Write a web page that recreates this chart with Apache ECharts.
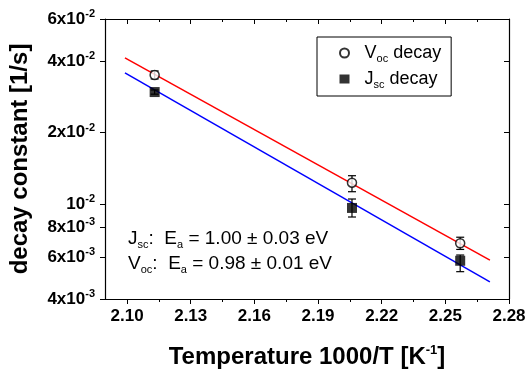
<!DOCTYPE html>
<html>
<head>
<meta charset="utf-8">
<script src="https://cdn.jsdelivr.net/npm/echarts@6/dist/echarts.min.js"></script>
<style>
  html, body { margin: 0; padding: 0; background: #fff; }
  #main { width: 532px; height: 377px; }
</style>
</head>
<body>
<div id="main"></div>
<script>
// 1000/T positions of the three measurements
const xValues = [2.113, 2.206, 2.257];
// Voc decay constants [1/s] with error bar limits
const vocValues = [0.0349, 0.01232, 0.00686];
const vocLow = [0.0336, 0.01129, 0.00646];
const vocHigh = [0.0363, 0.01318, 0.00727];
// Jsc decay constants [1/s] with error bar limits
const jscValues = [0.0296, 0.00965, 0.00579];
const jscLow = [0.0290, 0.00884, 0.00521];
const jscHigh = [0.0302, 0.01052, 0.00612];
// Arrhenius fit lines (end points)
const fitX = [2.099, 2.271];
const vocFit = [0.0412, 0.00583];
const jscFit = [0.0356, 0.00472];
// axis ticks
const xTicks = [2.10, 2.13, 2.16, 2.19, 2.22, 2.25, 2.28];
const xMinorTicks = [2.115, 2.145, 2.175, 2.205, 2.235, 2.265];
const yTicks = [0.004, 0.006, 0.008, 0.01, 0.02, 0.04, 0.06];
const yTickLabels = ['4x10{sup|-3}', '6x10{sup|-3}', '8x10{sup|-3}', '10{sup|-2}', '2x10{sup|-2}', '4x10{sup|-2}', '6x10{sup|-2}'];

const lg = v => Math.log10(v);
const yTickLog = yTicks.map(lg);

function points(vals) {
    return xValues.map((x, i) => [x, lg(vals[i])]);
}
function errData(lo, hi) {
    return xValues.map((x, i) => [x, lg(lo[i]), lg(hi[i])]);
}

function errorBar(params, api) {
    const x = api.value(0);
    const p1 = api.coord([x, api.value(1)]);
    const p2 = api.coord([x, api.value(2)]);
    const w = 4;
    const st = { stroke: '#000', lineWidth: 1.2 };
    return {
        type: 'group',
        children: [
            { type: 'line', shape: { x1: p1[0], y1: p1[1], x2: p2[0], y2: p2[1] }, style: st },
            { type: 'line', shape: { x1: p1[0] - w, y1: p1[1], x2: p1[0] + w, y2: p1[1] }, style: st },
            { type: 'line', shape: { x1: p2[0] - w, y1: p2[1], x2: p2[0] + w, y2: p2[1] }, style: st }
        ]
    };
}

const font = 'Liberation Sans, Arial, sans-serif';
const supRich = {
    sup: { fontSize: 11, fontWeight: 'bold', fontFamily: font, padding: [0, 0, 10, 0] }
};

var chart = echarts.init(document.getElementById('main'));
var frame = { show: true, lineStyle: { color: '#000', width: 1.2 } };
var option = {
    backgroundColor: '#fff',
    animation: false,
    grid: { left: 105, right: 23, top: 19, bottom: 78 },
    xAxis: [{
        type: 'value', min: 2.0896, max: 2.28, position: 'bottom',
        axisLine: frame,
        axisTick: { show: true, inside: false, length: 5, customValues: xTicks, lineStyle: { color: '#000' } },
        axisLabel: {
            customValues: xTicks, margin: 9, color: '#000', fontSize: 17, fontWeight: 'bold', fontFamily: font,
            formatter: v => v.toFixed(2)
        },
        splitLine: { show: false },
        name: 'Temperature 1000/T [K{sup|-1}]',
        nameLocation: 'middle', nameGap: 45,
        nameTextStyle: { color: '#000', fontSize: 24, fontWeight: 'bold', fontFamily: font, rich: { sup: { fontSize: 13, fontWeight: 'bold', fontFamily: font, padding: [0, 0, 13, 0] } } }
    }, {
        type: 'value', min: 2.0896, max: 2.28, position: 'bottom',
        axisLine: { show: false },
        axisTick: { show: true, inside: false, length: 3, customValues: xMinorTicks, lineStyle: { color: '#000' } },
        axisLabel: { show: false },
        splitLine: { show: false }
    }, {
        type: 'value', min: 2.0896, max: 2.28, position: 'top',
        axisLine: frame,
        axisTick: { show: true, inside: true, length: 5, customValues: xTicks, lineStyle: { color: '#000' } },
        axisLabel: { show: false },
        splitLine: { show: false }
    }, {
        type: 'value', min: 2.0896, max: 2.28, position: 'top',
        axisLine: { show: false },
        axisTick: { show: true, inside: true, length: 3, customValues: xMinorTicks, lineStyle: { color: '#000' } },
        axisLabel: { show: false },
        splitLine: { show: false }
    }],
    yAxis: [{
        type: 'value', min: lg(0.004), max: lg(0.06), position: 'left',
        axisLine: frame,
        axisTick: { show: true, inside: false, length: 5, customValues: yTickLog, lineStyle: { color: '#000' } },
        axisLabel: {
            customValues: yTickLog, margin: 10, color: '#000', fontSize: 17, fontWeight: 'bold', fontFamily: font,
            rich: supRich,
            formatter: function (v) {
                let best = 0;
                yTickLog.forEach((t, i) => { if (Math.abs(t - v) < Math.abs(yTickLog[best] - v)) best = i; });
                return yTickLabels[best];
            }
        },
        splitLine: { show: false },
        name: 'decay constant [1/s]',
        nameLocation: 'middle', nameGap: 73,
        nameTextStyle: { color: '#000', fontSize: 24, fontWeight: 'bold', fontFamily: font }
    }, {
        type: 'value', min: lg(0.004), max: lg(0.06), position: 'right',
        axisLine: frame,
        axisTick: { show: true, inside: true, length: 5, customValues: yTickLog, lineStyle: { color: '#000' } },
        axisLabel: { show: false },
        splitLine: { show: false }
    }],
    legend: {
        orient: 'vertical', left: 317, top: 37,
        padding: [7, 10, 6, 22], itemGap: 6,
        itemWidth: 10, itemHeight: 9,
        borderColor: '#000', borderWidth: 1,
        data: ['voc', 'jsc'],
        formatter: name => name === 'voc' ? '  V{sub|oc} decay' : '  J{sub|sc} decay',
        textStyle: {
            color: '#000', fontSize: 18, fontFamily: font,
            rich: { sub: { fontSize: 11, fontFamily: font, padding: [11, 0, 0, 0] } }
        }
    },
    graphic: [{
        type: 'text', left: 128, top: 226,
        style: {
            text: 'J{sub|sc}:  E{sub|a} = 1.00 ± 0.03 eV\nV{sub|oc}:  E{sub|a} = 0.98 ± 0.01 eV',
            fill: '#000', fontSize: 19, fontFamily: font, lineHeight: 25,
            rich: { sub: { fontSize: 11, fontFamily: font, padding: [12, 0, 0, 0] } }
        }
    }],
    series: [{
        name: 'vocfit', type: 'line', data: fitX.map((x, i) => [x, lg(vocFit[i])]),
        showSymbol: false, lineStyle: { color: '#ff0000', width: 1.5 }, z: 2
    }, {
        name: 'jscfit', type: 'line', data: fitX.map((x, i) => [x, lg(jscFit[i])]),
        showSymbol: false, lineStyle: { color: '#0000ff', width: 1.5 }, z: 2
    }, {
        name: 'vocerr', type: 'custom', renderItem: errorBar, data: errData(vocLow, vocHigh), z: 3
    }, {
        name: 'jscerr', type: 'custom', renderItem: errorBar, data: errData(jscLow, jscHigh), z: 3
    }, {
        name: 'voc', type: 'scatter', data: points(vocValues), symbol: 'circle', symbolSize: 9,
        itemStyle: { color: '#fff', borderColor: '#000', borderWidth: 1.5 }, z: 4
    }, {
        name: 'jsc', type: 'scatter', data: points(jscValues), symbol: 'rect', symbolSize: 10,
        itemStyle: { color: '#000' }, z: 4
    }]
};
chart.setOption(option);
</script>
</body>
</html>
